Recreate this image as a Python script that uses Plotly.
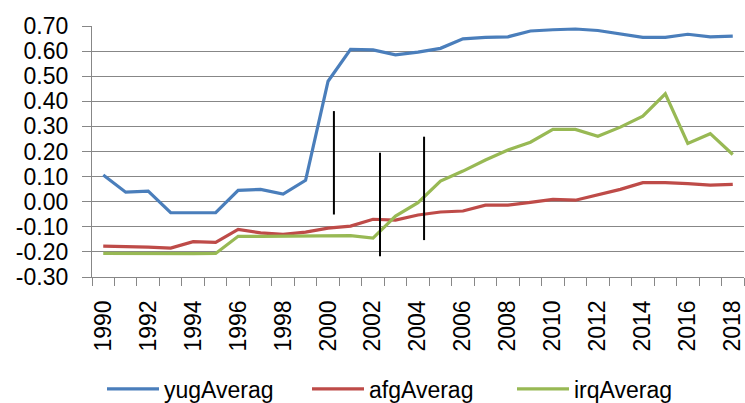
import plotly.graph_objects as go

# Yearly averages, 1990-2018
years = list(range(1990, 2019))

yug_average = [0.106, 0.038, 0.042, -0.044, -0.044, -0.044, 0.045, 0.049, 0.030, 0.085,
               0.480, 0.607, 0.605, 0.585, 0.596, 0.611, 0.649, 0.655, 0.657, 0.680,
               0.685, 0.688, 0.682, 0.668, 0.655, 0.655, 0.667, 0.657, 0.660]

afg_average = [-0.177, -0.178, -0.181, -0.185, -0.159, -0.162, -0.110, -0.124, -0.130, -0.121,
               -0.105, -0.097, -0.070, -0.073, -0.053, -0.041, -0.037, -0.014, -0.014, -0.003,
               0.009, 0.006, 0.029, 0.049, 0.076, 0.076, 0.072, 0.066, 0.069]

irq_average = [-0.206, -0.207, -0.206, -0.207, -0.207, -0.206, -0.138, -0.138, -0.138, -0.137,
               -0.135, -0.135, -0.145, -0.057, -0.004, 0.082, 0.122, 0.166, 0.206, 0.237,
               0.288, 0.288, 0.261, 0.297, 0.341, 0.430, 0.232, 0.271, 0.188]

# Vertical range markers (x position in years, top and bottom values)
marker_x = [2000.26, 2002.31, 2004.27]
marker_top = [0.361, 0.195, 0.259]
marker_bottom = [-0.051, -0.217, -0.153]

# Axis ticks
x_tick_years = years[::2]
x_tick_labels = [str(y) for y in x_tick_years]
y_ticks = [-0.3, -0.2, -0.1, 0.0, 0.1, 0.2, 0.3, 0.4, 0.5, 0.6, 0.7]
y_labels = ["-0.30", "-0.20", "-0.10", "0.00", "0.10", "0.20", "0.30",
            "0.40", "0.50", "0.60", "0.70"]

FONT = "Liberation Sans, Arial, sans-serif"
GRID = "#878787"

series = [
    ("yugAverag", yug_average, "#4A7EBB"),
    ("afgAverag", afg_average, "#BE4B48"),
    ("irqAverag", irq_average, "#98B954"),
]

fig = go.Figure()
for name, values, color in series:
    fig.add_trace(go.Scatter(
        x=years, y=values, name=name, mode="lines",
        line=dict(color=color, width=3.2),
    ))

# Black vertical markers drawn as one trace with gaps between segments
mx, my = [], []
for x, top, bottom in zip(marker_x, marker_top, marker_bottom):
    mx += [x, x, None]
    my += [top, bottom, None]
fig.add_trace(go.Scatter(
    x=mx, y=my, mode="lines", showlegend=False, hoverinfo="skip",
    line=dict(color="black", width=2),
))

fig.update_layout(
    width=745, height=403,
    margin=dict(l=92, r=1, t=26, b=126),
    paper_bgcolor="white", plot_bgcolor="white",
    font=dict(family=FONT, color="black", size=23),
    showlegend=True,
    legend=dict(
        orientation="h",
        xref="container", yref="container",
        x=102 / 745, xanchor="left",
        y=(403 - 389) / 403, yanchor="middle",
        font=dict(size=23), itemwidth=52,
        entrywidth=138, entrywidthmode="pixels",
        bgcolor="rgba(0,0,0,0)", traceorder="normal",
    ),
)

fig.update_xaxes(
    range=[years[0] - 0.5, years[-1] + 0.5],
    tickmode="array", tickvals=x_tick_years, ticktext=x_tick_labels,
    tickangle=-90, tickfont=dict(size=23),
    ticklabeloverflow="allow", ticklabelstandoff=5,
    ticks="outside", ticklen=8, tickcolor="rgba(0,0,0,0)",
    minor=dict(
        tickmode="array",
        tickvals=[y - 0.5 for y in years] + [years[-1] + 0.5],
        ticks="outside", ticklen=8, tickcolor=GRID, tickwidth=1.3, showgrid=False,
    ),
    showgrid=False, zeroline=False,
    showline=True, linecolor=GRID, linewidth=1.3,
    automargin=False,
)

fig.update_yaxes(
    range=[-0.3, 0.7],
    tickmode="array", tickvals=y_ticks, ticktext=y_labels,
    tickfont=dict(size=23),
    ticks="outside", ticklen=9, tickcolor=GRID, tickwidth=1.3,
    ticklabelstandoff=9,
    showgrid=True, gridcolor=GRID, gridwidth=1.3,
    zeroline=False,
    showline=True, linecolor=GRID, linewidth=1.3,
    automargin=False,
)

fig.write_html("out.html")
